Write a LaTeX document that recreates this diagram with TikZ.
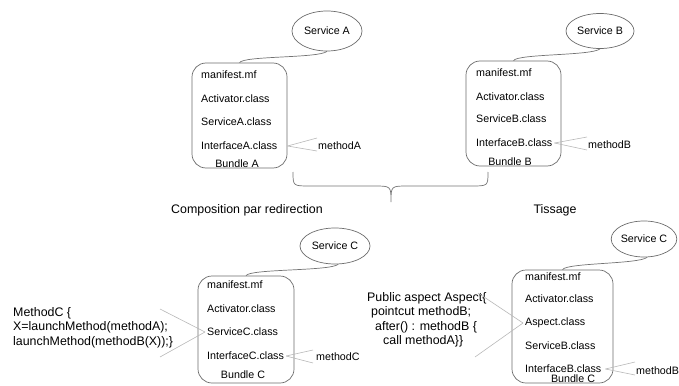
\documentclass[tikz,border=0pt]{standalone}
\usepackage{fontspec}
\setmainfont{Liberation Sans}
\usetikzlibrary{shapes.geometric}
\definecolor{boxgray}{gray}{0.42}
\definecolor{conngray}{gray}{0.45}
\definecolor{methgray}{gray}{0.72}
\begin{document}
\begin{tikzpicture}[x=1pt,y=-1pt,
  bundle/.style={draw=boxgray, line width=0.7pt, rounded corners=14pt, inner sep=0pt},
  svc/.style={ellipse, draw=boxgray, line width=0.7pt, inner sep=0pt, font=\fontsize{10.7}{12}\selectfont},
  item/.style={anchor=west, inner sep=0pt, font=\fontsize{10.7}{12}\selectfont},
  lbl/.style={inner sep=0pt, font=\fontsize{10.7}{12}\selectfont},
  big/.style={inner sep=0pt, font=\fontsize{12.4}{14.5}\selectfont},
  conn/.style={draw=conngray, line width=0.7pt},
  meth/.style={draw=methgray, line width=0.6pt}]
\useasboundingbox (0,0) rectangle (679,385);

% ---------- Bundle A ----------
\node[bundle, minimum width=95pt, minimum height=105pt] (bA) at (239.5,115.5) {};
\node[item] (mA) at (201,75) {manifest.mf};
\node[item] (acA) at (201,99) {Activator.class};
\node[item] (sA) at (201,122) {ServiceA.class};
\node[item] (iA) at (201,146) {InterfaceA.class};
\node[lbl] (nA) at (237,164) {Bundle A};
\node[svc, minimum width=70pt, minimum height=40pt] (svA) at (327,31) {Service A};
\draw[conn] (svA.south) .. controls +(-8,7) and +(4,-7) .. (bA.north);
\coordinate (mA1) at (317,138);
\coordinate (mA2) at (317,151);
\draw[meth] ([xshift=10pt]iA.east) -- (mA1);
\draw[meth] ([xshift=10pt]iA.east) -- (mA2);
\node[item] (tA) at (318,146) {methodA};

% ---------- Bundle B ----------
\node[bundle, minimum width=95pt, minimum height=105pt] (bB) at (513.5,113.5) {};
\node[item] (mB) at (476,73) {manifest.mf};
\node[item] (acB) at (476,97) {Activator.class};
\node[item] (sB) at (476,119) {ServiceB.class};
\node[item] (iB) at (476,143) {InterfaceB.class};
\node[lbl] (nB) at (510,162) {Bundle B};
\node[svc, minimum width=68pt, minimum height=35pt] (svB) at (600,31) {Service B};
\draw[conn] (svB.south) .. controls +(-8,7) and +(4,-7) .. (bB.north);
\coordinate (mB1) at (587,137);
\coordinate (mB2) at (587,150);
\draw[meth] ([xshift=2pt]iB.east) -- (mB1);
\draw[meth] ([xshift=2pt]iB.east) -- (mB2);
\node[item] (tB) at (588,145) {methodB};

% ---------- brace ----------
\draw[conn] (293,172) .. controls (293,186) .. (310,186) -- (374,186)
  .. controls (391,186) .. (391,202) .. controls (391,186) .. (408,186)
  -- (471,186) .. controls (488,186) .. (488,172);

\node[big] (comp) at (247,210) {Composition par redirection};
\node[big] (tiss) at (555,210) {Tissage};

% ---------- Bundle C (left) ----------
\node[bundle, minimum width=96pt, minimum height=107pt] (bC) at (246,329.5) {};
\node[item] (mC) at (207,285) {manifest.mf};
\node[item] (acC) at (207,309) {Activator.class};
\node[item] (sC) at (207,332) {ServiceC.class};
\node[item] (iC) at (207,356) {InterfaceC.class};
\node[lbl] (nC) at (243,375) {Bundle C};
\node[svc, minimum width=70pt, minimum height=36pt] (svC) at (335,246) {Service C};
\draw[conn] (svC.-80) .. controls +(-8,7) and +(4,-7) .. (bC.north);
\coordinate (mC1) at (313,350);
\coordinate (mC2) at (313,363);
\draw[meth] ([xshift=2pt]iC.east) -- (mC1);
\draw[meth] ([xshift=2pt]iC.east) -- (mC2);
\node[item] (tC) at (316,357) {methodC};

\node[big, anchor=west, align=left] (codeC) at (13,327.5)
  {MethodC \{\\X=launchMethod(methodA);\\launchMethod(methodB(X));\}};
\coordinate (cC1) at (160,309);
\coordinate (cC2) at (160,357);
\draw[meth] ([xshift=-2pt]sC.west) -- (cC1);
\draw[meth] ([xshift=-2pt]sC.west) -- (cC2);

% ---------- Bundle C (right) ----------
\node[bundle, minimum width=101pt, minimum height=113pt] (bD) at (562.5,326.5) {};
\node[item] (mD) at (525,277) {manifest.mf};
\node[item] (acD) at (525,299) {Activator.class};
\node[item] (aD) at (525,323) {Aspect.class};
\node[item] (sD) at (525,346) {ServiceB.class};
\node[item] (iD) at (525,369) {InterfaceB.class};
\node[lbl] (nD) at (573,379) {Bundle C};
\node[svc, minimum width=62pt, minimum height=36pt] (svD) at (644,239) {Service C};
\draw[conn] (svD.-80) .. controls +(-8,7) and +(4,-7) .. (bD.north);
\coordinate (mD1) at (635,362);
\coordinate (mD2) at (635,375);
\draw[meth] ([xshift=4pt]iD.east) -- (mD1);
\draw[meth] ([xshift=4pt]iD.east) -- (mD2);
\node[item] (tD) at (636,371) {methodB};

\node[big, anchor=west, align=left] (codeD) at (367,320)
  {Public aspect Aspect\{\\\hspace*{4pt}pointcut methodB;\\\hspace*{8pt}after() : methodB \{\\\hspace*{16pt}call methodA\}\}};
\coordinate (cD1) at (478,293);
\coordinate (cD2) at (475,357);
\draw[meth] ([xshift=-2pt]aD.west) -- (cD1);
\draw[meth] ([xshift=-2pt]aD.west) -- (cD2);
\end{tikzpicture}
\end{document}
